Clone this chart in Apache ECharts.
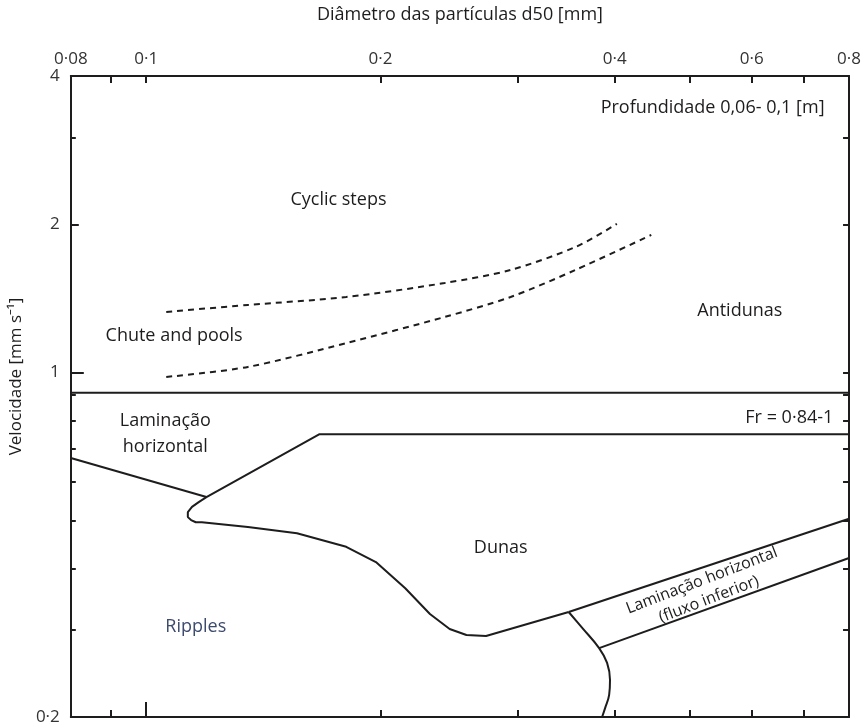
<!DOCTYPE html>
<html><head><meta charset="utf-8">
<script src="https://cdn.jsdelivr.net/npm/echarts@6/dist/echarts.min.js"></script>
<style>html,body{margin:0;padding:0;background:#fff}#c{width:864px;height:727px}</style>
</head><body><div id="c"></div>
<script>
// ---- axis ticks / labels ----
const xTickValues = [0.08,0.09,0.1,0.2,0.3,0.4,0.5,0.6,0.7,0.8];
const xLabelValues = [0.08,0.1,0.2,0.4,0.6,0.8];
const xLabelTexts  = ['0·08','0·1','0·2','0·4','0·6','0·8'];
const yTickValues = [0.2,0.3,0.4,0.5,0.6,0.7,0.8,0.9,1,2,3,4];
const yLabelValues = [0.2,1,2,4];
const yLabelTexts  = ['0·2','1','2','4'];

// ---- boundaries (d50 [mm], velocity) ----
const frUpper = [[0.08,0.91],[0.8,0.91]];
const dunasBoundary = [[0.8,0.75],[0.167,0.75],[0.1195,0.559],[0.1168,0.546],[0.1145,0.534],[0.1131,0.521],[0.1131,0.509],[0.1142,0.502],[0.1158,0.497],[0.1179,0.497],[0.1351,0.486],[0.1562,0.472],[0.1807,0.443],[0.1973,0.4125],[0.2152,0.365],[0.2315,0.3236],[0.2454,0.3017],[0.2579,0.2934],[0.2733,0.292],[0.349,0.3267]];
const ripplesUpper = [[0.08,0.671],[0.1195,0.559]];
const bandUpper = [[0.349,0.3267],[0.8,0.505]];
const bandLower = [[0.3819,0.276],[0.8,0.4205]];
const divider = [[0.349,0.3267],[0.3635,0.303],[0.3819,0.276],[0.391,0.2575],[0.3944,0.2377],[0.3934,0.2217],[0.3888,0.2087],[0.3853,0.2]];
const dashedUpper = [[0.1061,1.328],[0.1351,1.372],[0.1807,1.424],[0.2418,1.520],[0.2939,1.616],[0.3561,1.799],[0.4025,2.004]];
const dashedLower = [[0.1061,0.980],[0.1351,1.027],[0.1807,1.148],[0.2418,1.297],[0.2939,1.424],[0.3561,1.616],[0.4456,1.903]];

// ---- region labels ----
const labelTexts = ['Profundidade 0,06- 0,1 [m]','Cyclic steps','Chute and pools','Antidunas','Fr = 0·84-1','Laminação\nhorizontal','Dunas','Ripples','Laminação horizontal\n(fluxo inferior)'];
const labelX = [0.744,0.1766,0.1086,0.579,0.7636,0.1058,0.2854,0.1158,0.523];
const labelY = [3.444,2.240,1.187,1.334,0.809,0.750,0.441,0.3047,0.362];

const FONT = '"Open Sans", "Noto Sans", sans-serif';
const INK = '#1e1c1d';
const labelAlign = ['right','center','center','center','right','center','center','center','center'];
const labelRot = [0,0,0,0,0,0,0,0,21];
const labelColor = [INK,INK,INK,INK,INK,INK,INK,'#3c4a6e',INK];
const labelSize = [18,18,18,18,18,18,18,18,16];
const labelLH = [22,22,22,22,22,26,22,22,20];

function fmt(values, texts){
  return function(v){
    for (let i=0;i<values.length;i++) if (Math.abs(values[i]-v) < 1e-6*Math.max(1,v)) return texts[i];
    return '';
  };
}

const chart = echarts.init(document.getElementById('c'), null, {renderer:'canvas'});
const axisLine = {show:true, lineStyle:{color:INK, width:2}};
const baseX = {type:'log', logBase:10, min:0.08, max:0.8, splitLine:{show:false}, axisLine};
const baseY = {type:'log', logBase:10, min:0.2, max:4, splitLine:{show:false}, axisLine};

function lineS(data, extra){
  return Object.assign({type:'line', data, showSymbol:false, symbol:'none', silent:true,
    lineStyle:{color:INK, width:2}, z:3, xAxisIndex:0, yAxisIndex:0}, extra||{});
}

chart.setOption({
  animation:false,
  grid:{left:60, right:13, top:76, bottom:10, containLabel:false},
  xAxis:[
    Object.assign({}, baseX, {position:'top', name:'Diâmetro das partículas d50 [mm]', nameLocation:'middle', nameGap:52,
      nameTextStyle:{fontFamily:FONT, fontSize:18, color:INK},
      axisTick:{show:true, inside:true, length:7, lineStyle:{color:INK, width:2}, customValues:xTickValues},
      axisLabel:{show:true, margin:8, fontFamily:FONT, fontSize:17, color:'#333', customValues:xLabelValues, formatter:fmt(xLabelValues,xLabelTexts)}}),
    Object.assign({}, baseX, {position:'bottom',
      axisTick:{show:true, inside:true, length:7, lineStyle:{color:INK, width:2}, customValues:xTickValues},
      axisLabel:{show:false}}),
    Object.assign({}, baseX, {position:'bottom', axisLine:{show:false},
      axisTick:{show:true, inside:true, length:15, lineStyle:{color:INK, width:2}, customValues:[0.1]},
      axisLabel:{show:false}})
  ],
  yAxis:[
    Object.assign({}, baseY, {position:'left', name:'Velocidade [mm s⁻¹]', nameLocation:'middle', nameGap:40, nameRotate:90,
      nameTextStyle:{fontFamily:FONT, fontSize:17, color:INK, padding:[0,0,0,40]},
      axisTick:{show:true, inside:true, length:5, lineStyle:{color:INK, width:2}, customValues:yTickValues},
      axisLabel:{show:true, margin:11, fontFamily:FONT, fontSize:17, color:'#333', customValues:yLabelValues, formatter:fmt(yLabelValues,yLabelTexts)}}),
    Object.assign({}, baseY, {position:'right',
      axisTick:{show:true, inside:true, length:6, lineStyle:{color:INK, width:2}, customValues:yTickValues},
      axisLabel:{show:false}}),
    Object.assign({}, baseY, {position:'left', axisLine:{show:false},
      axisTick:{show:true, inside:true, length:13, lineStyle:{color:INK, width:2}, customValues:[1]},
      axisLabel:{show:false}}),
    Object.assign({}, baseY, {position:'left', axisLine:{show:false},
      axisTick:{show:true, inside:true, length:8, lineStyle:{color:INK, width:2}, customValues:[2]},
      axisLabel:{show:false}})
  ],
  series:[
    lineS(frUpper),
    lineS(dunasBoundary),
    lineS(ripplesUpper),
    lineS(bandUpper),
    lineS(bandLower),
    lineS(divider, {smooth:0.4}),
    lineS(dashedUpper, {smooth:0.3, lineStyle:{color:INK, width:2, type:[6,5]}}),
    lineS(dashedLower, {smooth:0.3, lineStyle:{color:INK, width:2, type:[6,5]}}),
    {
      type:'custom', xAxisIndex:0, yAxisIndex:0, silent:true, z:5,
      data: labelTexts.map((t,i)=>[labelX[i], labelY[i]]),
      encode:{x:0, y:1},
      renderItem:function(params, api){
        const i = params.dataIndex;
        const p = api.coord([labelX[i], labelY[i]]);
        return {type:'text', x:p[0], y:p[1], rotation: labelRot[i]*Math.PI/180,
          style:{text:labelTexts[i], fill:labelColor[i], fontFamily:FONT, fontSize:labelSize[i],
            align:labelAlign[i], verticalAlign:'middle', lineHeight: labelLH[i]}};
      }
    }
  ]
});
</script></body></html>
